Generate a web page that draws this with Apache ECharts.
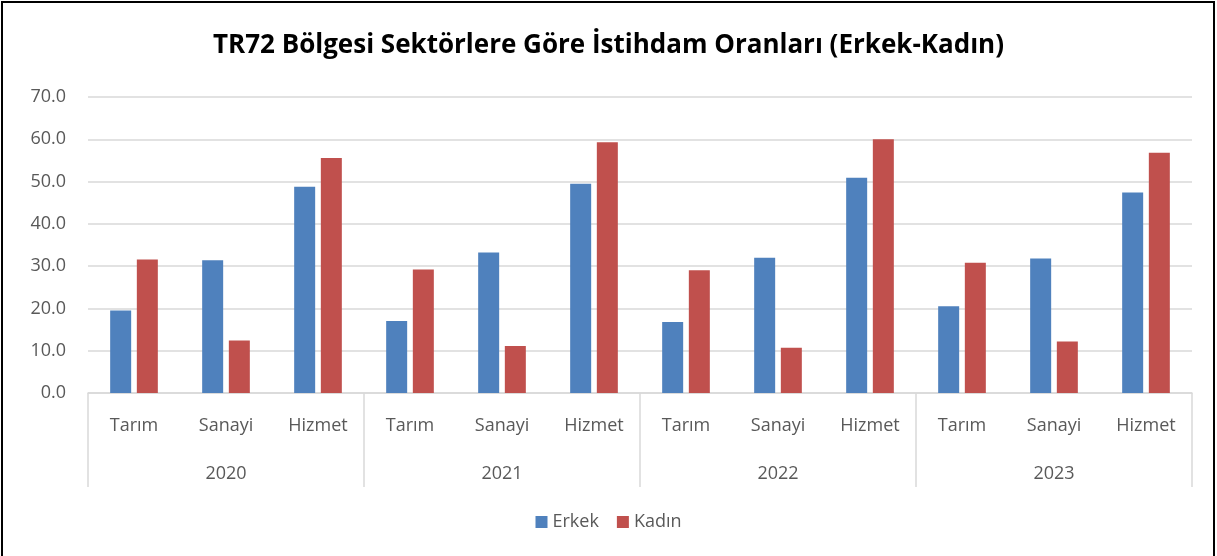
<!DOCTYPE html>
<html>
<head>
<meta charset="utf-8">
<script src="https://cdn.jsdelivr.net/npm/echarts@6/dist/echarts.min.js"></script>
<style>
  html, body { margin: 0; padding: 0; background: #fff; }
  #main { width: 1217px; height: 556px; }
</style>
</head>
<body>
<div id="main"></div>
<script>
// veriler
var sectors = ['Tarım', 'Sanayi', 'Hizmet'];
var years = ['2020', '2021', '2022', '2023'];
var erkek = [19.5, 31.4, 48.8, 17.0, 33.2, 49.5, 16.8, 32.0, 50.9, 20.5, 31.8, 47.4];
var kadin = [31.6, 12.4, 55.6, 29.2, 11.1, 59.3, 29.0, 10.7, 60.0, 30.8, 12.2, 56.8];
var yTicks = [0, 10, 20, 30, 40, 50, 60, 70];

var cats = [];
years.forEach(function (y) {
    sectors.forEach(function (s) { cats.push(s); });
});

var myChart = echarts.init(document.getElementById('main'));
var fontFam = '"Open Sans", "Noto Sans", sans-serif';

var option = {
    animation: false,
    textStyle: { fontFamily: fontFam },
    title: {
        text: 'TR72 Bölgesi Sektörlere Göre İstihdam Oranları (Erkek-Kadın)',
        left: 'center',
        top: 28,
        textStyle: { fontSize: 26, fontWeight: 'bold', color: '#000', fontFamily: fontFam }
    },
    legend: {
        data: ['Erkek', 'Kadın'],
        bottom: 20,
        left: 'center',
        icon: 'rect',
        itemWidth: 12,
        itemHeight: 12,
        itemGap: 18,
        textStyle: { fontSize: 18, color: '#595959', fontFamily: fontFam }
    },
    graphic: [{
        type: 'rect',
        shape: { x: 2, y: 2, width: 1212, height: 560 },
        style: { fill: 'none', stroke: '#000', lineWidth: 2 }
    }],
    grid: { left: 88, right: 25, top: 97, bottom: 163 },
    xAxis: [{
        type: 'category',
        data: cats,
        position: 'bottom',
        axisLine: { lineStyle: { color: '#d9d9d9', width: 1.5 } },
        axisTick: { show: false },
        axisLabel: { fontSize: 18, color: '#595959', margin: 24, interval: 0 }
    }, {
        type: 'category',
        data: years,
        position: 'bottom',
        axisLine: { show: false },
        axisTick: { show: true, length: 94, interval: 0, lineStyle: { color: '#d9d9d9', width: 1.5 } },
        axisLabel: { fontSize: 18, color: '#595959', margin: 72 }
    }],
    yAxis: {
        type: 'value',
        min: yTicks[0],
        max: yTicks[yTicks.length - 1],
        interval: 10,
        axisLine: { show: false },
        axisTick: { show: false },
        axisLabel: {
            fontSize: 18, color: '#595959', margin: 22,
            formatter: function (v) { return v.toFixed(1); }
        },
        splitLine: { lineStyle: { color: '#d9d9d9', width: 1.5 } }
    },
    series: [{
        name: 'Erkek',
        type: 'bar',
        xAxisIndex: 0,
        data: erkek,
        barWidth: 21,
        barGap: '27%',
        itemStyle: { color: '#4f81bd' }
    }, {
        name: 'Kadın',
        type: 'bar',
        xAxisIndex: 0,
        data: kadin,
        barWidth: 21,
        barGap: '27%',
        itemStyle: { color: '#c0504d' }
    }]
};

myChart.setOption(option);
window.onresize = myChart.resize;
</script>
</body>
</html>
